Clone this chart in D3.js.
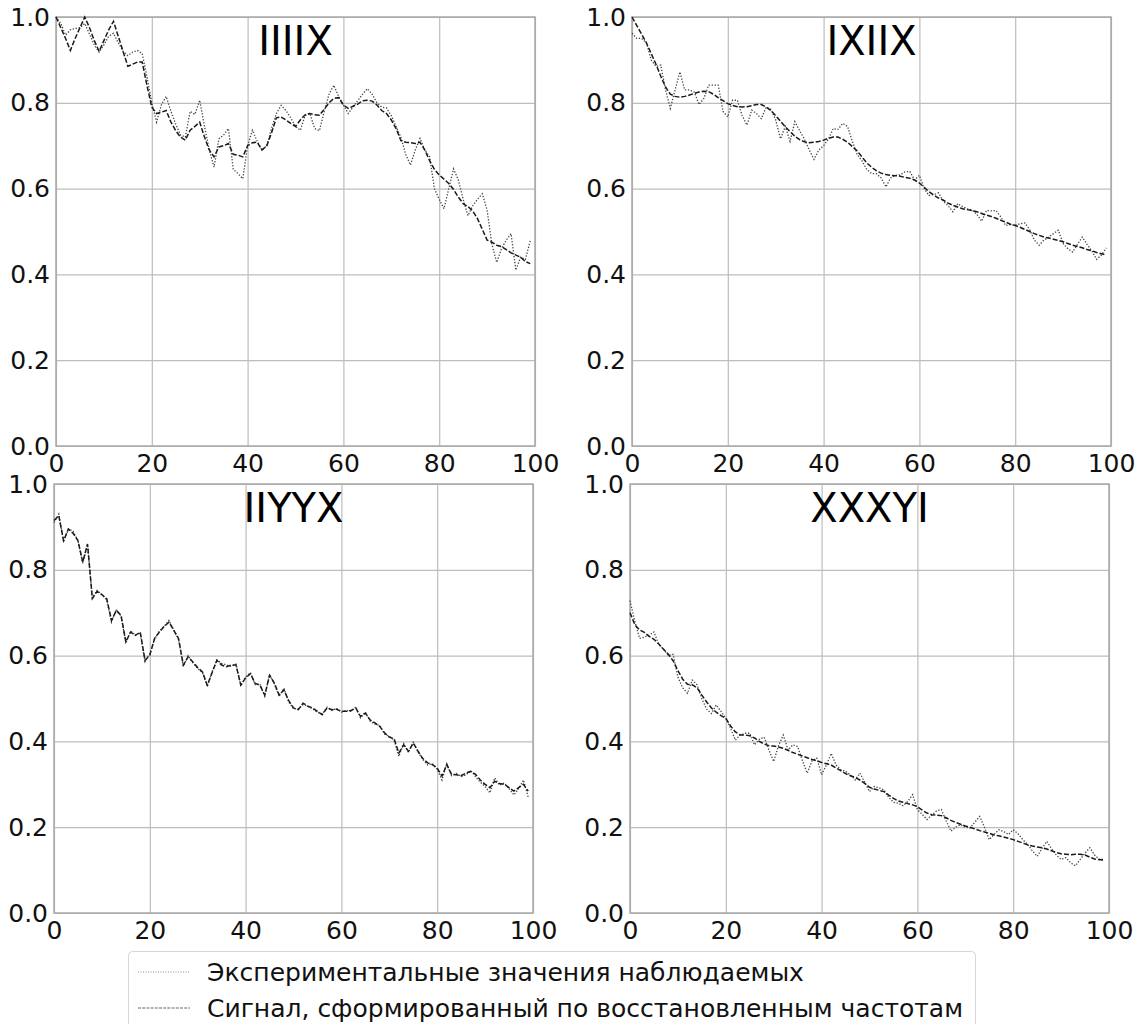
<!DOCTYPE html>
<html>
<head>
<meta charset="utf-8">
<title>Сигналы</title>
<script src="https://cdn.jsdelivr.net/npm/d3@7"></script>
<style>
    body { margin:0; background:white; }
    svg { display:block; font-family:'DejaVu Sans', sans-serif; }
    .grid line { stroke:#bdbdbd; stroke-width:1.2; }
    .tick text { fill:#111; }
</style>
</head>
<body>
<svg id="chart" width="1137" height="1024"></svg>
<script>
// ---- data ----
const titles = ["IIIIX", "IXIIX", "IIYYX", "XXXYI"];
const xTicks = [0, 20, 40, 60, 80, 100];
const yTicks = [0.0, 0.2, 0.4, 0.6, 0.8, 1.0];
const legendLabels = [
    "Экспериментальные значения наблюдаемых",
    "Сигнал, сформированный по восстановленным частотам"
];

// panel 1 (IIIIX)
const exp1 = [1.00,0.985,0.958,0.97,0.973,0.975,0.985,0.96,0.935,0.918,0.935,0.955,0.962,0.94,0.92,0.91,0.918,0.922,0.915,0.86,
    0.80,0.755,0.795,0.815,0.78,0.75,0.725,0.72,0.78,0.773,0.806,0.745,0.69,0.65,0.716,0.725,0.74,0.645,0.635,0.623,
    0.70,0.736,0.71,0.69,0.70,0.74,0.775,0.794,0.782,0.765,0.745,0.736,0.77,0.775,0.74,0.735,0.78,0.82,0.841,0.815,
    0.795,0.775,0.79,0.805,0.82,0.833,0.82,0.80,0.79,0.788,0.77,0.745,0.72,0.68,0.655,0.69,0.717,0.69,0.674,0.60,
    0.575,0.553,0.60,0.646,0.62,0.575,0.537,0.56,0.575,0.588,0.55,0.47,0.428,0.46,0.48,0.495,0.41,0.44,0.435,0.478];
const sig1 = [1.00,0.975,0.95,0.922,0.95,0.975,1.00,0.975,0.945,0.92,0.945,0.97,0.99,0.955,0.92,0.885,0.89,0.895,0.895,0.84,
    0.79,0.775,0.778,0.782,0.755,0.735,0.72,0.713,0.736,0.745,0.755,0.72,0.69,0.674,0.697,0.70,0.705,0.68,0.678,0.674,
    0.70,0.707,0.708,0.69,0.70,0.73,0.765,0.767,0.76,0.752,0.745,0.76,0.772,0.775,0.772,0.771,0.785,0.80,0.81,0.812,
    0.795,0.787,0.792,0.797,0.805,0.806,0.804,0.795,0.782,0.775,0.76,0.74,0.712,0.708,0.707,0.705,0.708,0.69,0.665,0.645,
    0.632,0.622,0.612,0.598,0.58,0.565,0.558,0.548,0.53,0.505,0.48,0.475,0.468,0.465,0.458,0.45,0.445,0.44,0.43,0.425];

// panel 2 (IXIIX)
const exp2 = [0.962,0.95,0.95,0.94,0.90,0.885,0.888,0.83,0.787,0.83,0.872,0.83,0.83,0.825,0.796,0.81,0.841,0.841,0.841,0.78,
    0.767,0.806,0.806,0.77,0.748,0.783,0.775,0.763,0.79,0.785,0.76,0.716,0.745,0.71,0.756,0.735,0.715,0.69,0.668,0.69,
    0.70,0.715,0.74,0.738,0.752,0.745,0.71,0.68,0.665,0.645,0.635,0.635,0.625,0.604,0.625,0.631,0.632,0.639,0.64,0.62,
    0.631,0.60,0.584,0.586,0.59,0.57,0.56,0.546,0.565,0.558,0.553,0.55,0.54,0.524,0.549,0.548,0.549,0.534,0.514,0.516,
    0.515,0.518,0.52,0.505,0.48,0.468,0.48,0.487,0.495,0.503,0.472,0.46,0.452,0.47,0.487,0.47,0.455,0.435,0.445,0.462];
const sig2 = [1.00,0.98,0.96,0.94,0.915,0.89,0.862,0.837,0.82,0.815,0.813,0.815,0.818,0.822,0.825,0.827,0.826,0.82,0.812,0.805,
    0.798,0.794,0.791,0.79,0.791,0.793,0.796,0.796,0.79,0.782,0.77,0.757,0.744,0.733,0.722,0.714,0.709,0.707,0.708,0.71,
    0.713,0.717,0.72,0.72,0.715,0.708,0.698,0.688,0.674,0.66,0.65,0.642,0.636,0.633,0.631,0.63,0.629,0.626,0.624,0.62,
    0.613,0.603,0.593,0.585,0.578,0.573,0.566,0.561,0.557,0.553,0.551,0.549,0.546,0.542,0.538,0.535,0.531,0.526,0.522,0.517,
    0.514,0.51,0.505,0.50,0.495,0.491,0.487,0.485,0.482,0.479,0.476,0.472,0.468,0.465,0.462,0.458,0.455,0.451,0.448,0.445];

// panel 3 (IIYYX)
const exp3 = [0.91,0.93,0.865,0.895,0.89,0.868,0.815,0.858,0.735,0.752,0.742,0.73,0.678,0.708,0.692,0.63,0.657,0.648,0.652,0.586,
    0.605,0.638,0.657,0.668,0.682,0.66,0.637,0.575,0.60,0.583,0.57,0.56,0.528,0.562,0.59,0.582,0.578,0.575,0.58,0.53,
    0.55,0.56,0.532,0.534,0.505,0.556,0.534,0.505,0.524,0.492,0.476,0.476,0.486,0.482,0.476,0.468,0.464,0.48,0.472,0.477,
    0.468,0.472,0.47,0.48,0.455,0.468,0.447,0.44,0.437,0.417,0.412,0.403,0.365,0.395,0.374,0.398,0.375,0.358,0.345,0.348,
    0.335,0.31,0.348,0.32,0.325,0.318,0.322,0.332,0.318,0.305,0.295,0.28,0.315,0.298,0.303,0.29,0.275,0.29,0.31,0.27];
const sig3 = [0.915,0.926,0.868,0.895,0.885,0.868,0.818,0.86,0.733,0.75,0.742,0.733,0.682,0.705,0.694,0.632,0.655,0.647,0.655,0.589,
    0.601,0.64,0.655,0.668,0.678,0.659,0.64,0.578,0.597,0.585,0.572,0.562,0.531,0.56,0.589,0.578,0.574,0.578,0.578,0.531,
    0.548,0.558,0.535,0.531,0.508,0.554,0.536,0.508,0.52,0.495,0.478,0.474,0.489,0.482,0.478,0.47,0.462,0.478,0.474,0.475,
    0.47,0.47,0.472,0.478,0.458,0.466,0.45,0.443,0.435,0.42,0.41,0.406,0.373,0.392,0.377,0.396,0.377,0.36,0.35,0.346,
    0.338,0.319,0.346,0.323,0.322,0.32,0.326,0.33,0.323,0.31,0.30,0.292,0.307,0.302,0.30,0.292,0.284,0.292,0.30,0.284];

// panel 4 (XXXYI)
const exp4 = [0.728,0.68,0.64,0.643,0.648,0.655,0.626,0.615,0.60,0.603,0.55,0.525,0.512,0.543,0.532,0.50,0.475,0.465,0.485,0.47,
    0.454,0.43,0.403,0.415,0.419,0.419,0.392,0.405,0.41,0.38,0.353,0.39,0.415,0.38,0.392,0.388,0.355,0.326,0.355,0.361,
    0.322,0.345,0.372,0.345,0.334,0.33,0.322,0.31,0.326,0.305,0.283,0.295,0.292,0.287,0.27,0.258,0.256,0.25,0.26,0.276,
    0.241,0.23,0.218,0.228,0.238,0.241,0.215,0.191,0.20,0.206,0.20,0.198,0.212,0.225,0.20,0.171,0.183,0.194,0.19,0.183,
    0.194,0.185,0.171,0.16,0.145,0.132,0.15,0.167,0.15,0.135,0.125,0.129,0.117,0.11,0.125,0.14,0.152,0.135,0.125,0.121];
const sig4 = [0.70,0.672,0.66,0.654,0.645,0.638,0.627,0.615,0.603,0.588,0.565,0.545,0.533,0.532,0.525,0.508,0.492,0.478,0.468,0.46,
    0.454,0.436,0.422,0.415,0.415,0.413,0.408,0.40,0.394,0.39,0.389,0.387,0.384,0.379,0.374,0.37,0.366,0.362,0.358,0.355,
    0.351,0.348,0.345,0.338,0.332,0.325,0.32,0.316,0.31,0.302,0.293,0.289,0.286,0.283,0.275,0.267,0.261,0.258,0.255,0.252,
    0.248,0.24,0.233,0.229,0.228,0.227,0.222,0.216,0.211,0.207,0.203,0.20,0.196,0.192,0.189,0.186,0.182,0.18,0.177,0.174,
    0.171,0.167,0.163,0.159,0.156,0.154,0.152,0.149,0.145,0.141,0.138,0.137,0.136,0.137,0.137,0.135,0.13,0.126,0.124,0.125];

// ---- layout ----
const panels = [
    {title: titles[0], exp: exp1, sig: sig1, left: 56,  top: 17},
    {title: titles[1], exp: exp2, sig: sig2, left: 632, top: 17},
    {title: titles[2], exp: exp3, sig: sig3, left: 54,  top: 484},
    {title: titles[3], exp: exp4, sig: sig4, left: 630, top: 484}
];
const pw = 479, ph = 429;
const fontSize = 25;

const svg = d3.select('#chart');

let x = d3.scaleLinear().domain([0, 100]).range([0, pw]);
let y = d3.scaleLinear().domain([0, 1]).range([ph, 0]);

let line = d3.line()
    .x((d, i) => x(i))
    .y(d => y(d));

panels.forEach(p => {
    let g = svg.append('g').attr('transform', `translate(${p.left},${p.top})`);

    // grid
    g.append('g').attr('class', 'grid')
        .call(d3.axisBottom(x).tickValues(xTicks).tickSize(ph).tickFormat(''))
        .call(a => a.select('.domain').remove());
    g.append('g').attr('class', 'grid')
        .call(d3.axisLeft(y).tickValues(yTicks).tickSize(-pw).tickFormat(''))
        .call(a => a.select('.domain').remove());

    // frame
    g.append('rect')
        .attr('width', pw).attr('height', ph)
        .attr('fill', 'none').attr('stroke', '#a8a8a8').attr('stroke-width', 1.5);

    // tick labels
    g.append('g')
        .attr('transform', `translate(0,${ph})`)
        .call(d3.axisBottom(x).tickValues(xTicks).tickSize(0).tickPadding(8))
        .call(a => a.select('.domain').remove())
        .selectAll('text').attr('font-size', fontSize).attr('font-family', 'DejaVu Sans');
    g.append('g')
        .call(d3.axisLeft(y).tickValues(yTicks).tickSize(0).tickPadding(6).tickFormat(d3.format('.1f')))
        .call(a => a.select('.domain').remove())
        .selectAll('text').attr('font-size', fontSize).attr('font-family', 'DejaVu Sans');

    // series
    g.append('path').datum(p.exp)
        .attr('d', line)
        .attr('fill', 'none')
        .attr('stroke', '#444')
        .attr('stroke-width', 1.3)
        .attr('stroke-dasharray', '1.3,1.7');
    g.append('path').datum(p.sig)
        .attr('d', line)
        .attr('fill', 'none')
        .attr('stroke', '#1a1a1a')
        .attr('stroke-width', 1.5)
        .attr('stroke-dasharray', '5,2');

    // title inside the axes
    g.append('text')
        .attr('x', pw / 2).attr('y', 38)
        .attr('text-anchor', 'middle')
        .attr('font-size', 40)
        .attr('fill', '#000')
        .text(p.title);
});

// legend
let lg = svg.append('g');
lg.append('rect')
    .attr('x', 128.5).attr('y', 951.5)
    .attr('width', 847).attr('height', 90).attr('rx', 4)
    .attr('fill', 'white').attr('stroke', '#d6d6d6');

const legendStyles = [
    {dash: '1,1.5', color: '#888'},
    {dash: '3,1.2', color: '#666'}
];
legendLabels.forEach((t, i) => {
    let cy = 972 + i * 36;
    lg.append('line')
        .attr('x1', 138).attr('x2', 190).attr('y1', cy).attr('y2', cy)
        .attr('stroke', legendStyles[i].color)
        .attr('stroke-width', 1)
        .attr('stroke-dasharray', legendStyles[i].dash);
    lg.append('text')
        .attr('x', 207).attr('y', cy)
        .attr('dy', '0.35em')
        .attr('font-size', fontSize)
        .attr('fill', '#111')
        .text(t);
});
</script>
</body>
</html>
